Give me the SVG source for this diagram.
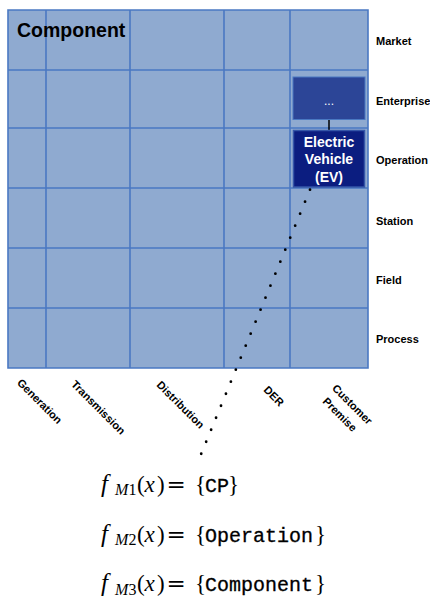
<svg xmlns="http://www.w3.org/2000/svg" width="430" height="596" viewBox="0 0 430 596">
<style>
.grid{stroke:#4A78C2;stroke-width:1.6;fill:none}
.row{font-family:"Liberation Sans",Arial,sans-serif;font-weight:bold;font-size:11px;fill:#000}
.col{font-family:"Liberation Sans",Arial,sans-serif;font-weight:bold;font-size:11px;fill:#000}
.nodetxt{font-family:"Liberation Sans",Arial,sans-serif;font-weight:bold;font-size:14px;fill:#fff;text-anchor:middle}
.dots{font-weight:normal;font-size:12px}
.math{font-family:"Liberation Serif","Times New Roman",serif;font-size:23px;fill:#000}
.it{font-style:italic}
.f{font-size:25px}
.tt{font-family:"Liberation Mono","Courier New",monospace;font-size:20px;stroke:#000;stroke-width:0.3}
</style>
<rect width="430" height="596" fill="#fff"/>
<g id="grid">
<rect x="8" y="10" width="360" height="358" fill="#8FAAD0"/>
<path class="grid" d="M8 10H368V368H8Z M8 70H368 M8 128H368 M8 188H368 M8 248H368 M8 308H368 M46 10V368 M130 10V368 M224 10V368 M290 10V368"/>
</g>
<text x="17" y="37" font-family="Liberation Sans,Arial,sans-serif" font-weight="bold" font-size="19.5" fill="#000">Component</text>
<g id="row-labels">
<text class="row" x="376" y="45">Market</text>
<text class="row" x="376" y="105">Enterprise</text>
<text class="row" x="376" y="164">Operation</text>
<text class="row" x="376" y="225">Station</text>
<text class="row" x="376" y="284">Field</text>
<text class="row" x="376" y="343">Process</text>
</g>
<g id="col-labels">
<text class="col" transform="translate(16.5,383.5) rotate(45)">Generation</text>
<text class="col" transform="translate(70.5,385) rotate(45)">Transmission</text>
<text class="col" transform="translate(156,385.6) rotate(45)">Distribution</text>
<text class="col" transform="translate(263,390.6) rotate(45)">DER</text>
<text class="col" transform="translate(331.5,389) rotate(45)">Customer</text>
<text class="col" transform="translate(322,402) rotate(45)">Premise</text>
</g>
<g id="connectors">
<line x1="329" y1="119.5" x2="329" y2="130" stroke="#000" stroke-width="1.5"/>
<line x1="310" y1="189.7" x2="197" y2="464" stroke="#000" stroke-width="2.8" stroke-linecap="round" stroke-dasharray="0 12.98"/>
</g>
<g id="enterprise">
<rect x="293" y="77" width="72" height="42.5" fill="#2C4597" stroke="#4A78C2" stroke-width="1"/>
<text class="nodetxt dots" x="329" y="105">...</text>
</g>
<g id="ev">
<rect x="293.5" y="130.5" width="71" height="56.5" fill="#0B1D80" stroke="#3556A8" stroke-width="1.5"/>
<text class="nodetxt" x="329" y="146.7">Electric</text>
<text class="nodetxt" x="329" y="164.3">Vehicle</text>
<text class="nodetxt" x="329" y="181.7">(EV)</text>
</g>
<g id="formulas">
<text class="math" y="491.5"><tspan class="it f" x="101">f</tspan><tspan class="it" x="115" y="495" font-size="16">M</tspan><tspan x="128.5" y="495" font-size="16">1</tspan><tspan x="137" y="491.5">(</tspan><tspan class="it" x="144.5">x</tspan><tspan x="157">)</tspan><tspan x="166.5" font-family="DejaVu Serif,serif">=</tspan><tspan x="195">{</tspan><tspan class="tt" x="205">CP</tspan><tspan x="228">}</tspan></text>
<text class="math" y="541.5"><tspan class="it f" x="101">f</tspan><tspan class="it" x="115" y="545" font-size="16">M</tspan><tspan x="128.5" y="545" font-size="16">2</tspan><tspan x="137" y="541.5">(</tspan><tspan class="it" x="144.5">x</tspan><tspan x="157">)</tspan><tspan x="166.5" font-family="DejaVu Serif,serif">=</tspan><tspan x="195">{</tspan><tspan class="tt" x="205">Operation</tspan><tspan x="315">}</tspan></text>
<text class="math" y="591"><tspan class="it f" x="101">f</tspan><tspan class="it" x="115" y="594.5" font-size="16">M</tspan><tspan x="128.5" y="594.5" font-size="16">3</tspan><tspan x="137" y="591">(</tspan><tspan class="it" x="144.5">x</tspan><tspan x="157">)</tspan><tspan x="166.5" font-family="DejaVu Serif,serif">=</tspan><tspan x="195">{</tspan><tspan class="tt" x="205">Component</tspan><tspan x="315">}</tspan></text>
</g>
</svg>
